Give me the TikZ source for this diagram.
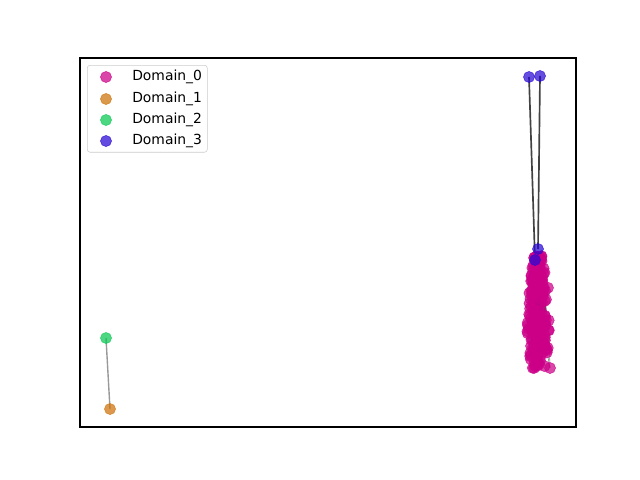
\documentclass[tikz,border=0pt]{standalone}
\usepackage{fontspec}
\setmainfont{DejaVu Sans}
\usetikzlibrary{positioning,backgrounds}
\definecolor{dom0}{RGB}{204,0,136}
\definecolor{dom1}{RGB}{206,114,10}
\definecolor{dom2}{RGB}{8,200,82}
\definecolor{dom3}{RGB}{42,8,212}
\definecolor{edgegray}{RGB}{45,45,45}

\begin{document}
\begin{tikzpicture}[x=0.72pt, y=-0.72pt]
  \tikzstyle{dot}=[circle, inner sep=0pt, minimum size=8pt, fill opacity=0.72, draw opacity=0.72]
  \tikzstyle{link}=[line width=1.2pt, edgegray, opacity=0.9]
  \tikzstyle{innerlink}=[line width=0.4pt, black, opacity=0.5]
  \tikzstyle{legendbox}=[rectangle, draw=black!20, fill=white, fill opacity=0.8, rounded corners=2pt, minimum width=86.4pt, minimum height=62.6pt, anchor=north west, inner sep=0pt]
  \useasboundingbox (0,0) rectangle (640,480);

  % axes frame
  \draw[line width=0.8pt] (80,58) rectangle (576,427);

  % Domain_0 cluster
  \pgfmathsetseed{11}
  \foreach \i in {1,...,170}{
    \pgfmathsetmacro{\t}{rnd}
    \pgfmathsetmacro{\w}{4+8*sin(\t*165)}
    \pgfmathsetmacro{\px}{538.5+\w*(2*rnd-1)}
    \pgfmathsetmacro{\py}{256+113*\t}
    \node[dot, fill=dom0, draw=dom0] (a\i) at (\px,\py) {};
  }
  \node[dot, fill=dom0, draw=dom0] (a171) at (550,368) {};

  % Domain_3
  \node[dot, fill=dom3, draw=dom3] (b1) at (529,77) {};
  \node[dot, fill=dom3, draw=dom3] (b2) at (540,76) {};
  \node[dot, fill=dom3, draw=dom3] (b3) at (538,249) {};
  \node[dot, fill=dom3, draw=dom3] (b4) at (535,260) {};

  % Domain_1 / Domain_2
  \node[dot, fill=dom2, draw=dom2] (c2) at (106,338) {};
  \node[dot, fill=dom1, draw=dom1] (c1) at (110,409) {};

  % edges
  \begin{scope}[on background layer]
    \foreach \i [evaluate=\i as \j using {int(random(1,171))}] in {2,...,171}
      \draw[innerlink] (a\i.center) -- (a\j.center);
    \draw[link] (b1.center) -- (b4.center);
    \draw[link] (b2.center) -- (b3.center);
    \draw[line width=1pt, gray, opacity=0.8] (c2.center) -- (c1.center);
  \end{scope}

  % legend
  \node[legendbox] (legend) at (87,65) {};
  \foreach \k/\yy in {0/77,1/99,2/120,3/141}{
    \node[dot, fill=dom\k, draw=dom\k] (m\k) at (106,\yy) {};
    \node[right, inner sep=0pt] (t\k) at (132,\yy) {Domain\_\k};
  }
\end{tikzpicture}
\end{document}
